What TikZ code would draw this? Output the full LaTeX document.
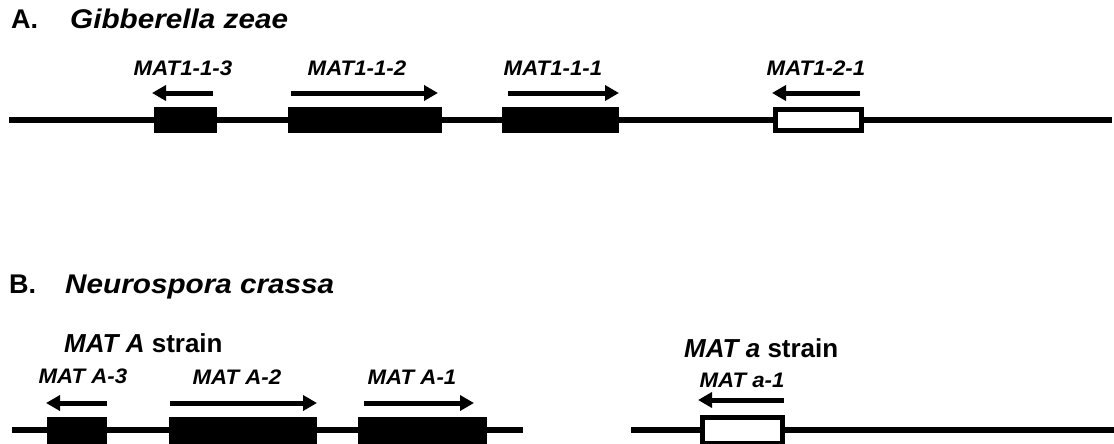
\documentclass[tikz,border=0pt]{standalone}
\usepackage{fontspec}
\setmainfont{Liberation Sans}
\usetikzlibrary{arrows.meta}
\tikzset{
  dna/.style={line width=6pt},
  genebox/.style={fill=black, draw=none, inner sep=0pt, minimum height=26pt},
  openbox/.style={fill=white, draw=black, line width=5pt, inner sep=0pt, minimum height=21pt},
  dirarrow/.style={line width=5pt, -{Triangle[length=14pt,width=15pt]}, shorten >=-1pt},
  title/.style={anchor=base west, inner sep=0pt, font=\bfseries\fontsize{27}{31}\selectfont},
  species/.style={anchor=base west, inner sep=0pt, xscale=1.1, font=\bfseries\itshape\fontsize{27}{31}\selectfont},
  strain/.style={anchor=base west, inner sep=0pt, font=\bfseries\fontsize{26}{30}\selectfont},
  genelabel/.style={anchor=base, inner sep=0pt, xscale=1.06, font=\bfseries\itshape\fontsize{21}{25}\selectfont},
}
\begin{document}
\begin{tikzpicture}[x=1pt,y=-1pt]
\useasboundingbox (0,0) rectangle (1114,444);
\clip (0,0) rectangle (1114,444);
% ---------- A ----------
\node[title] (tA) at (11,29) {A.};
\node[species] (sA) at (70,29) {Gibberella zeae};
\coordinate (lAs) at (9,120);
\coordinate (lAe) at (1112,120);
\draw[dna] (lAs) -- (lAe);
\node[genebox, minimum width=63pt] (g113) at (185.5,120) {};
\node[genebox, minimum width=154pt] (g112) at (365,120) {};
\node[genebox, minimum width=117pt] (g111) at (560.5,120) {};
\node[openbox, minimum width=86pt] (g121) at (818.5,120) {};
\coordinate (a113s) at (213,93); \coordinate (a113e) at (153,93);
\coordinate (a112s) at (291,93); \coordinate (a112e) at (437,93);
\coordinate (a111s) at (508,93); \coordinate (a111e) at (618,93);
\coordinate (a121s) at (860,93); \coordinate (a121e) at (773,93);
\draw[dirarrow] (a113s) -- (a113e);
\draw[dirarrow] (a112s) -- (a112e);
\draw[dirarrow] (a111s) -- (a111e);
\draw[dirarrow] (a121s) -- (a121e);
\node[genelabel] (l113) at (183,75) {MAT1-1-3};
\node[genelabel] (l112) at (357,75) {MAT1-1-2};
\node[genelabel] (l111) at (553,75) {MAT1-1-1};
\node[genelabel] (l121) at (816,75) {MAT1-2-1};
% ---------- B ----------
\node[title] (tB) at (9,293) {B.};
\node[species] (sB) at (65,293) {Neurospora crassa};
\node[strain] (stA) at (64,352) {\textit{MAT A} strain};
\node[strain] (sta) at (684,357) {\textit{MAT a} strain};
\coordinate (lBs) at (12,430);
\coordinate (lBe) at (523,430);
\draw[dna] (lBs) -- (lBe);
\coordinate (lbs) at (631,430);
\coordinate (lbe) at (1114,430);
\draw[dna] (lbs) -- (lbe);
\node[genebox, minimum width=60pt, minimum height=28pt] (gA3) at (77,431) {};
\node[genebox, minimum width=148pt, minimum height=28pt] (gA2) at (243,431) {};
\node[genebox, minimum width=129pt, minimum height=28pt] (gA1) at (422.5,431) {};
\node[openbox, minimum width=80pt, minimum height=26pt] (ga1) at (742.5,430) {};
\coordinate (aA3s) at (107,403); \coordinate (aA3e) at (47,403);
\coordinate (aA2s) at (170,403); \coordinate (aA2e) at (316,403);
\coordinate (aA1s) at (364,403); \coordinate (aA1e) at (473,403);
\coordinate (aa1s) at (784,400); \coordinate (aa1e) at (699,400);
\draw[dirarrow] (aA3s) -- (aA3e);
\draw[dirarrow] (aA2s) -- (aA2e);
\draw[dirarrow] (aA1s) -- (aA1e);
\draw[dirarrow] (aa1s) -- (aa1e);
\node[genelabel] (lA3) at (83,383) {MAT A-3};
\node[genelabel] (lA2) at (237,384) {MAT A-2};
\node[genelabel] (lA1) at (412,384) {MAT A-1};
\node[genelabel] (la1) at (742,387) {MAT a-1};
\end{tikzpicture}
\end{document}
